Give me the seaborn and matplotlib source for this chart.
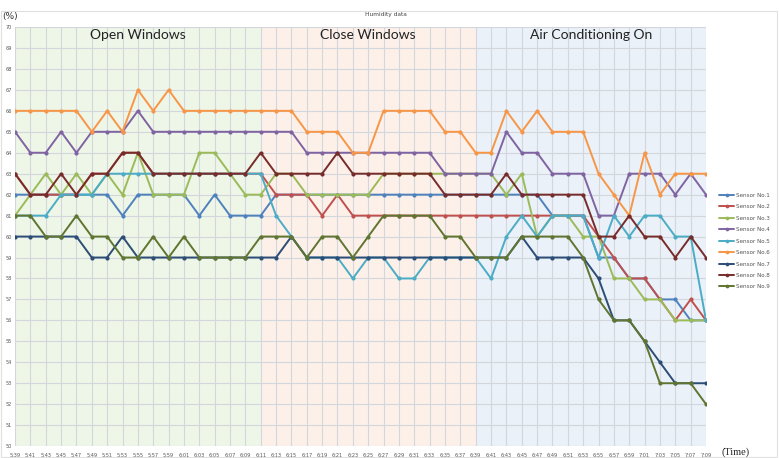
import matplotlib.pyplot as plt
import pandas as pd
import seaborn as sns

sns.set_style("white")

# time axis (every 2 min)
times = ["5:39", "5:41", "5:43", "5:45", "5:47", "5:49", "5:51", "5:53", "5:55", "5:57",
         "5:59", "6:01", "6:03", "6:05", "6:07", "6:09", "6:11", "6:13", "6:15", "6:17",
         "6:19", "6:21", "6:23", "6:25", "6:27", "6:29", "6:31", "6:33", "6:35", "6:37",
         "6:39", "6:41", "6:43", "6:45", "6:47", "6:49", "6:51", "6:53", "6:55", "6:57",
         "6:59", "7:01", "7:03", "7:05", "7:07", "7:09"]

# humidity readings (%)
sensor1 = [62, 62, 62, 62, 62, 62, 62, 61, 62, 62, 62, 62, 61, 62, 61, 61, 61, 62, 62, 62,
           62, 62, 62, 62, 62, 62, 62, 62, 62, 62, 62, 62, 62, 62, 62, 61, 61, 61, 59, 59,
           58, 58, 57, 57, 56, 56]
sensor2 = [63, 62, 62, 62, 62, 63, 63, 64, 64, 63, 63, 63, 63, 63, 63, 63, 63, 62, 62, 62,
           61, 62, 61, 61, 61, 61, 61, 61, 61, 61, 61, 61, 61, 61, 61, 61, 61, 61, 60, 59,
           58, 58, 57, 56, 57, 56]
sensor3 = [61, 62, 63, 62, 63, 62, 63, 62, 64, 62, 62, 62, 64, 64, 63, 62, 62, 63, 63, 62,
           62, 62, 62, 62, 63, 63, 63, 63, 63, 63, 63, 63, 62, 63, 60, 61, 61, 60, 60, 58,
           58, 57, 57, 56, 56, 56]
sensor4 = [65, 64, 64, 65, 64, 65, 65, 65, 66, 65, 65, 65, 65, 65, 65, 65, 65, 65, 65, 64,
           64, 64, 64, 64, 64, 64, 64, 64, 63, 63, 63, 63, 65, 64, 64, 63, 63, 63, 61, 61,
           63, 63, 63, 62, 63, 62]
sensor5 = [61, 61, 61, 62, 62, 62, 63, 63, 63, 63, 63, 63, 63, 63, 63, 63, 63, 61, 60, 59,
           59, 59, 58, 59, 59, 58, 58, 59, 59, 59, 59, 58, 60, 61, 60, 61, 61, 61, 59, 61,
           60, 61, 61, 60, 60, 56]
sensor6 = [66, 66, 66, 66, 66, 65, 66, 65, 67, 66, 67, 66, 66, 66, 66, 66, 66, 66, 66, 65,
           65, 65, 64, 64, 66, 66, 66, 66, 65, 65, 64, 64, 66, 65, 66, 65, 65, 65, 63, 62,
           61, 64, 62, 63, 63, 63]
sensor7 = [60, 60, 60, 60, 60, 59, 59, 60, 59, 59, 59, 59, 59, 59, 59, 59, 59, 59, 60, 59,
           59, 59, 59, 59, 59, 59, 59, 59, 59, 59, 59, 59, 59, 60, 59, 59, 59, 59, 58, 56,
           56, 55, 54, 53, 53, 53]
sensor8 = [63, 62, 62, 63, 62, 63, 63, 64, 64, 63, 63, 63, 63, 63, 63, 63, 64, 63, 63, 63,
           63, 64, 63, 63, 63, 63, 63, 63, 62, 62, 62, 62, 63, 62, 62, 62, 62, 62, 60, 60,
           61, 60, 60, 59, 60, 59]
sensor9 = [61, 61, 60, 60, 61, 60, 60, 59, 59, 60, 59, 60, 59, 59, 59, 59, 60, 60, 60, 59,
           60, 60, 59, 60, 61, 61, 61, 61, 60, 60, 59, 59, 59, 60, 60, 60, 60, 59, 57, 56,
           56, 55, 53, 53, 53, 52]

sensor_names = ["Sensor No.1", "Sensor No.2", "Sensor No.3", "Sensor No.4", "Sensor No.5",
                "Sensor No.6", "Sensor No.7", "Sensor No.8", "Sensor No.9"]
series = [sensor1, sensor2, sensor3, sensor4, sensor5, sensor6, sensor7, sensor8, sensor9]

phases = ["Open Windows", "Close Windows", "Air Conditioning On"]
phase_edges = [0, 16, 30, 45]
phase_colors = ["#EEF6E8", "#FDF0E9", "#EAF1F9"]

pal = ["#4F81BD", "#C0504D", "#9BBB59", "#8064A2", "#4BACC6",
       "#F79646", "#2C4D75", "#772C2A", "#5F7530"]

rows = []
for name, vals in zip(sensor_names, series):
    for i, v in enumerate(vals):
        rows.append({"idx": i, "Humidity": v, "Sensor": name})
df = pd.DataFrame(rows)

fig = plt.figure(figsize=(7.79, 4.58), dpi=100)
ax = fig.add_axes([0.0193, 0.026, 0.8870, 0.915])

# background phases
for k, label in enumerate(phases):
    ax.axvspan(phase_edges[k], phase_edges[k + 1], color=phase_colors[k], lw=0, zorder=0)
    ax.text((phase_edges[k] + phase_edges[k + 1]) / 2, 69.62, label, ha="center", va="center",
            fontsize=10, family="Lato", color="#222222", zorder=5)

sns.lineplot(data=df, x="idx", y="Humidity", hue="Sensor", palette=pal, marker="o",
             markersize=3, markeredgewidth=0, linewidth=1.4, ax=ax, zorder=3, sort=False)

ax.set_xlim(0, 45)
ax.set_ylim(50, 70)
ax.set_xticks(range(len(times)), times)
ax.set_yticks(range(50, 71))
ax.grid(True, color="#D3D7DB", linewidth=0.8, zorder=1)
ax.set_axisbelow(True)
ax.tick_params(axis="both", length=0, labelsize=3.6, labelcolor="#555555")
ax.tick_params(axis="x", pad=5)
ax.tick_params(axis="y", pad=2)
for s in ax.spines.values():
    s.set_visible(False)
ax.set_xlabel("")
ax.set_ylabel("")

leg = ax.legend(loc="center left", bbox_to_anchor=(1.0195, 0.489), frameon=False, fontsize=4.1,
                handlelength=2.6, labelspacing=1.13, handletextpad=0.3, borderaxespad=0,
                borderpad=0, markerscale=0.9)
for t in leg.get_texts():
    t.set_color("#555555")

fig.text(0.495, 0.968, "Humidity data", ha="center", va="center", fontsize=4.2, color="#444444")
fig.text(0.003, 0.963, "(%)", ha="left", va="center", fontsize=6.5, color="#333333")
fig.text(0.926, 0.012, "(Time)", ha="left", va="center", fontsize=7.5, family="Liberation Serif")

fig.patches.append(plt.Rectangle((0.001, 0.002), 0.996, 0.975, transform=fig.transFigure,
                                 fill=False, edgecolor="#E0E0E0", linewidth=0.8))

plt.savefig("out.png", dpi=100)
